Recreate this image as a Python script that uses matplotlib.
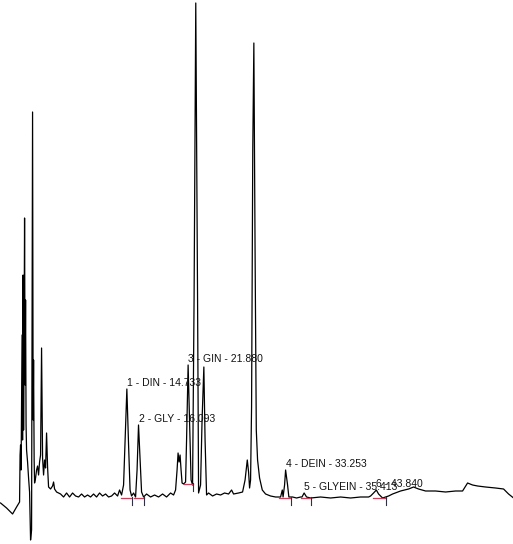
import matplotlib.pyplot as plt
import numpy as np

# detector trace: time in seconds, signal in mAU
time_s = [0, 42, 84, 112, 133, 136.5, 140, 143.5, 147, 150.5, 154, 157.5, 161, 164.5, 168,
          171.5, 175, 178.5, 182, 189, 196, 203, 210, 217, 221, 224, 228, 231, 235, 238,
          245, 252, 259, 266, 273, 280, 287, 294, 301, 308, 315, 322, 329, 336, 350, 364,
          371, 378, 392, 420, 441, 462, 483, 504, 525, 546, 567, 588, 609, 630, 651, 672,
          693, 714, 735, 756, 777, 798, 819, 833, 847, 861, 871.5, 884, 896, 906.5, 917,
          931, 945, 955.5, 965.6, 976.5, 987, 1001, 1022, 1050, 1078, 1106, 1134, 1162,
          1190, 1211, 1225, 1235.5, 1242.5, 1249.5, 1256.5, 1263.5, 1270.5, 1281, 1295,
          1302, 1312.8, 1326.5, 1333.5, 1344, 1354.5, 1366.4, 1379, 1386, 1400, 1410.5,
          1423, 1431.5, 1442, 1456, 1484, 1512, 1540, 1568, 1596, 1617, 1631, 1666, 1694,
          1711.5, 1727, 1736, 1743, 1750, 1757, 1765.4, 1773, 1781.5, 1790, 1799, 1813,
          1832, 1855, 1890, 1925, 1960, 1972, 1977.5, 1988, 1995.2, 2009, 2018, 2044, 2072,
          2100, 2110, 2124.8, 2142, 2170, 2240, 2310, 2380, 2450, 2520, 2576, 2590, 2611,
          2630.4, 2646, 2674, 2716, 2744, 2800, 2856, 2891, 2926, 2975, 3045, 3115, 3185,
          3234, 3269, 3304, 3339, 3395, 3465, 3521, 3556, 3591]
signal = [-6, -11, -17, -10, -5, 42, 52, 27, 102, 162, 57, 222, 67, 152, 279,
          112, 197, 72, 47, 35, 19, 5, -43, -33, 197, 385, 77, 137, 37, 14,
          19, 27, 31, 22, 35, 42, 149, 39, 22, 37, 29, 64, 30, 10, 8, 11,
          15, 8, 5, 3, 0, 4, 0, 4, 1, 0, 3, 0, 2, 0, 3, 0,
          4, 1, 3, 0, 1, 4, 1, 7, 2, 12, 57, 108, 52, 7, 1,
          4, 0, 27, 72, 37, 5, 0, 3, 0, 2, 0, 3, 0,
          4, 2, 7, 27, 44, 35, 42, 27, 14, 13, 15,
          57, 132, 57, 17, 12, 197, 494, 197, 4, 12, 77,
          130, 57, 2, 4, 1, 3, 2, 4, 3, 7, 3, 4, 5,
          17, 37, 25, 9, 17, 90, 347, 454, 247, 67, 37, 19,
          7, 3, 1, 0, 0, 7, 0, 12, 27, 12, 0, 0, -1,
          0, 0, 4, 0, -1, 0, -1, 0, -1, 0, 0, 1, 4,
          7, 3, -1, 1, 3, 6, 8, 10, 8, 6, 6, 5, 6,
          6, 14, 12, 11, 10, 9, 8, 3, -1]

# integrated peaks
peak_names = ['DIN', 'GLY', 'GIN', 'DEIN', 'GLYEIN', '']
peak_rt = [14.733, 16.093, 21.880, 33.253, 35.413, 43.840]
peak_height = [108, 72, 132, 27, 4, 7]
peak_start = [840, 931, 1281, 1946, 2100, 2604]
peak_end = [917, 1001, 1344, 2030, 2170, 2695]
base_level = [-1, -1, 13, -1, -1, -1]

t_min = np.array(time_s) / 60.0

fig = plt.figure(figsize=(5.13, 5.44), dpi=100)
ax = fig.add_axes([0, 0, 1, 1])
ax.plot(t_min, signal, color='black', linewidth=0.9)

for i in range(len(peak_rt)):
    s, e = peak_start[i] / 60.0, peak_end[i] / 60.0
    ax.plot([s, e], [base_level[i], base_level[i]], color='#c8405a', linewidth=0.9)
    ax.plot([e, e], [base_level[i] + 1, base_level[i] - 7], color='#303040', linewidth=0.8)
    if peak_names[i]:
        lab = f'{i + 1} - {peak_names[i]} - {peak_rt[i]:.3f}'
    else:
        lab = f'{i + 1} - {peak_rt[i]:.3f}'
    ax.text(peak_rt[i], peak_height[i] + 3, lab, ha='left', va='baseline',
            fontsize=7.5, family='Liberation Sans', color='#111111')

ax.set_xlim(-4 / 60.0, 3587 / 60.0)
ax.set_ylim(-47, 497)
ax.axis('off')
fig.savefig('out.png', dpi=100)
